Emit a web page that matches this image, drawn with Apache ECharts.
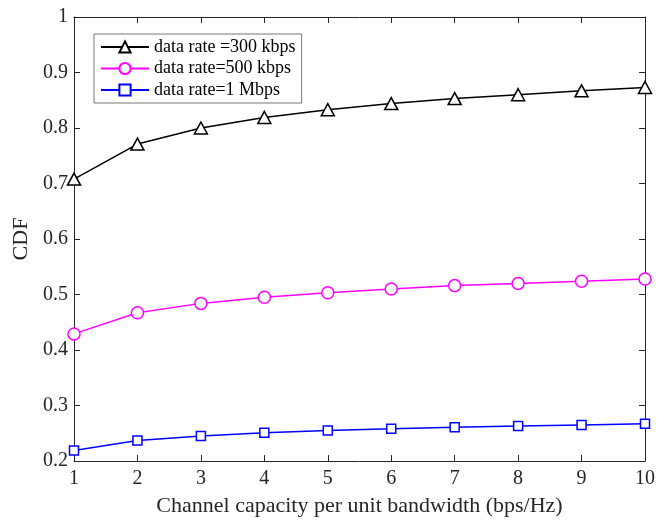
<!DOCTYPE html>
<html>
<head>
<meta charset="utf-8">
<script src="https://cdn.jsdelivr.net/npm/echarts@6/dist/echarts.min.js"></script>
<style>html,body{margin:0;padding:0;background:#fff}#c{width:658px;height:522px}</style>
</head>
<body>
<div id="c"></div>
<script>
const xValues = [1, 2, 3, 4, 5, 6, 7, 8, 9, 10];
const rate300 = [0.708, 0.771, 0.800, 0.819, 0.833, 0.844, 0.853, 0.860, 0.867, 0.873];
const rate500 = [0.429, 0.467, 0.484, 0.495, 0.503, 0.510, 0.516, 0.520, 0.524, 0.528];
const rate1M  = [0.219, 0.237, 0.245, 0.251, 0.255, 0.258, 0.261, 0.263, 0.265, 0.267];
const seriesNames = ['data rate =300 kbps', 'data rate=500 kbps', 'data rate=1 Mbps'];
const xLabel = 'Channel capacity per unit bandwidth (bps/Hz)';
const yLabel = 'CDF';

const font = "'Liberation Serif', 'Times New Roman', serif";
const pairs = arr => xValues.map((x, i) => [x, arr[i]]);

const chart = echarts.init(document.getElementById('c'), null, {renderer: 'canvas'});
const axisCommon = {
  axisLine: {show: true, onZero: false, lineStyle: {color: '#262626', width: 1}},
  axisTick: {show: true, inside: true, length: 6, lineStyle: {color: '#262626'}},
  splitLine: {show: false}
};
chart.setOption({
  animation: false,
  backgroundColor: '#fff',
  grid: {left: 74, right: 9, top: 17, bottom: 57, containLabel: false},
  legend: {
    orient: 'vertical',
    left: 94, top: 34,
    padding: [4, 6, 4, 6],
    itemGap: 3.5,
    itemWidth: 48, itemHeight: 14,
    backgroundColor: '#fff',
    borderColor: '#777', borderWidth: 1,
    textStyle: {fontFamily: font, fontSize: 18, color: '#000', lineHeight: 18},
    data: seriesNames
  },
  xAxis: [
    Object.assign({
      type: 'value', min: 1, max: 10, interval: 1, position: 'bottom',
      name: xLabel, nameLocation: 'middle', nameGap: 34,
      nameTextStyle: {fontFamily: font, fontSize: 22, color: '#262626', verticalAlign: 'top'},
      axisLabel: {fontFamily: font, fontSize: 20, color: '#262626', margin: 8}
    }, axisCommon),
    Object.assign({
      type: 'value', min: 1, max: 10, interval: 1, position: 'top',
      axisLabel: {show: false}
    }, axisCommon)
  ],
  yAxis: [
    Object.assign({
      type: 'value', min: 0.2, max: 1, interval: 0.1, position: 'left',
      name: yLabel, nameLocation: 'middle', nameGap: 41,
      nameTextStyle: {fontFamily: font, fontSize: 22, color: '#262626'},
      axisLabel: {fontFamily: font, fontSize: 20, color: '#262626', margin: 6,
        formatter: v => String(Math.round(v * 10) / 10)}
    }, axisCommon),
    Object.assign({
      type: 'value', min: 0.2, max: 1, interval: 0.1, position: 'right',
      axisLabel: {show: false}
    }, axisCommon)
  ],
  series: [
    {
      name: seriesNames[0], type: 'line', data: pairs(rate300),
      symbol: 'triangle', symbolSize: [13, 12],
      lineStyle: {color: '#000', width: 1.5},
      itemStyle: {color: '#fff', borderColor: '#000', borderWidth: 1.5},
      z: 3
    },
    {
      name: seriesNames[1], type: 'line', data: pairs(rate500),
      symbol: 'circle', symbolSize: 12,
      lineStyle: {color: '#ff00ff', width: 1.5},
      itemStyle: {color: '#fff', borderColor: '#ff00ff', borderWidth: 1.5},
      z: 3
    },
    {
      name: seriesNames[2], type: 'line', data: pairs(rate1M),
      symbol: 'rect', symbolSize: 9,
      lineStyle: {color: '#0000ff', width: 1.5},
      itemStyle: {color: '#fff', borderColor: '#0000ff', borderWidth: 1.5},
      z: 3
    }
  ]
});
</script>
</body>
</html>
